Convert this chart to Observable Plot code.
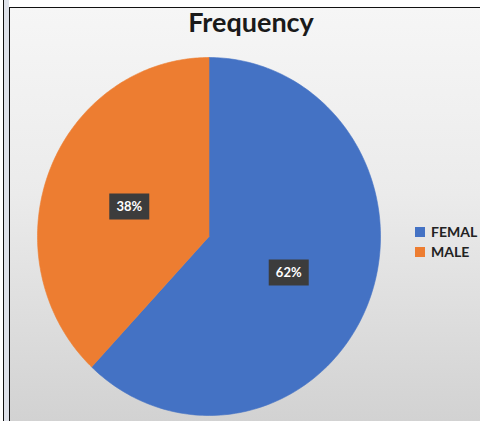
<!DOCTYPE html>
<html>
<head>
<meta charset="utf-8">
<script src="https://cdn.jsdelivr.net/npm/d3@7"></script>
<script src="https://cdn.jsdelivr.net/npm/@observablehq/plot@0.6"></script>
<style>
  html, body { margin: 0; padding: 0; background: #fff; }
  #wrap { position: relative; width: 480px; height: 421px; overflow: hidden; background: #fff; }
  #outerline { position: absolute; left: 3px; top: 0; width: 1px; height: 421px; background: #111; }
  #strip { position: absolute; left: 4px; top: 0; width: 5px; height: 421px; background: #dfe2ea; }
  #panel { position: absolute; left: 9px; top: 7px; width: 471px; height: 414px;
           border-left: 1.5px solid #111; border-top: 1.5px solid #111; box-sizing: border-box;
           background: linear-gradient(180deg, #f6f6f6 0%, #ebebeb 45%, #d2d2d2 100%); }
  #chart { position: absolute; left: 0; top: 0; }
  #title { position: absolute; left: 0; width: 502px; top: 5px; text-align: center;
           font-family: Lato, "Open Sans", sans-serif; font-weight: 700; font-size: 27px; color: #1a1a1a; }
  .leg { position: absolute; left: 415px; font-family: Lato, "Open Sans", sans-serif; font-weight: 700;
         font-size: 14px; color: #222; white-space: nowrap; display: flex; align-items: center; }
  .sw { width: 10px; height: 10px; margin-right: 6px; }
</style>
</head>
<body>
<div id="wrap">
  <div id="outerline"></div>
  <div id="strip"></div>
  <div id="panel"></div>
  <div id="chart"></div>
  <div id="title">Frequency</div>
  <div id="legend"></div>
</div>
<script>
const categories = ["FEMAL", "MALE"];
const values = [62, 38];
const labels = ["62%", "38%"];
const colors = ["#4472C4", "#ED7D31"];

const arcs = d3.pie().sort(null)(values);

// wedge outlines in unit coordinates (angle clockwise from 12 o'clock)
const wedgePoints = [];
arcs.forEach((a, i) => {
  const n = 180;
  wedgePoints.push({cat: categories[i], x: 0, y: 0});
  for (let k = 0; k <= n; k++) {
    const t = a.startAngle + (a.endAngle - a.startAngle) * k / n;
    wedgePoints.push({cat: categories[i], x: Math.sin(t), y: Math.cos(t)});
  }
  wedgePoints.push({cat: categories[i], x: 0, y: 0});
});

const labelData = arcs.map((a, i) => {
  const m = (a.startAngle + a.endAngle) / 2;
  return {label: labels[i], x: 0.5 * Math.sin(m), y: 0.5 * Math.cos(m)};
});

const boxSymbol = { draw(ctx) { ctx.rect(-20, -13, 40, 26); } };

const chart = Plot.plot({
  width: 480,
  height: 421,
  margin: 0,
  style: { background: "transparent", overflow: "visible" },
  x: { domain: [-1, 1], range: [37, 380], axis: null },
  y: { domain: [-1, 1], range: [415, 57], axis: null },
  color: { domain: categories, range: colors },
  marks: [
    Plot.line(wedgePoints, { x: "x", y: "y", z: "cat", fill: "cat", stroke: "cat", strokeWidth: 0.6, curve: "linear" }),
    Plot.dot(labelData, { x: "x", y: "y", dy: 3, symbol: boxSymbol, fill: "#3c3c3c", stroke: "none", r: 10 }),
    Plot.text(labelData, { x: "x", y: "y", dy: 3, text: "label", fill: "#ffffff", fontSize: 13, fontWeight: "bold",
                           fontFamily: "Lato, 'Open Sans', sans-serif" })
  ]
});
document.getElementById("chart").appendChild(chart);

const legend = document.getElementById("legend");
categories.forEach((c, i) => {
  const row = document.createElement("div");
  row.className = "leg";
  row.style.top = (223 + i * 20) + "px";
  const sw = document.createElement("span");
  sw.className = "sw";
  sw.style.background = colors[i];
  row.appendChild(sw);
  row.appendChild(document.createTextNode(c));
  legend.appendChild(row);
});
</script>
</body>
</html>
